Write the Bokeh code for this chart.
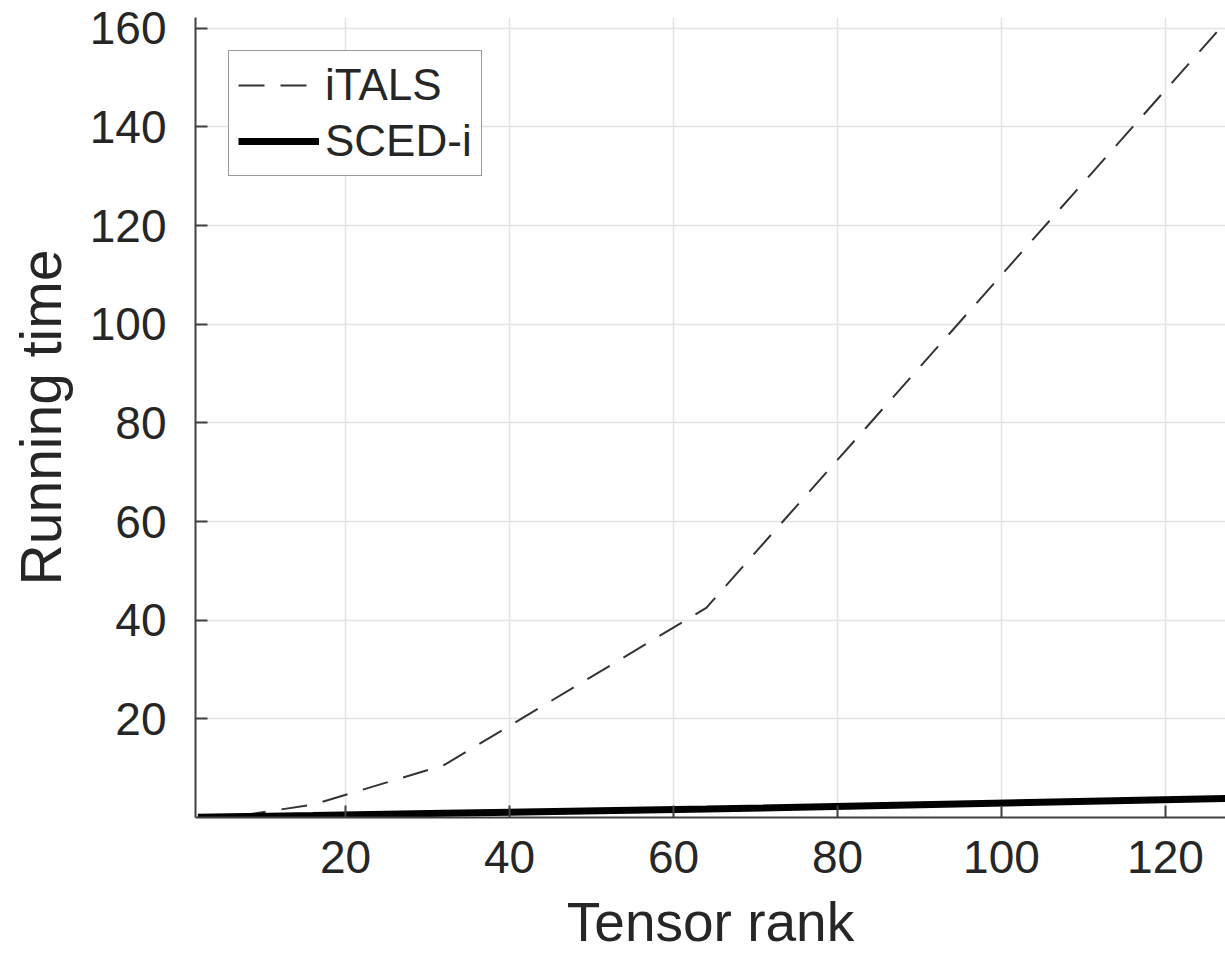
from bokeh.plotting import figure
from bokeh.models import Range1d, FixedTicker, Legend, LegendItem
from bokeh.embed import file_html
from bokeh.resources import INLINE

# Data
rank = [2, 4, 8, 16, 32, 64, 128]
italS = [0.05, 0.15, 0.6, 2.6, 10.6, 42.5, 162.5]
sced_i = [0.05, 0.1, 0.2, 0.4, 0.85, 1.7, 3.9]

x_ticks = [20, 40, 60, 80, 100, 120]
y_ticks = [20, 40, 60, 80, 100, 120, 140, 160]

FONT = "Liberation Sans"
TXT = "#262626"

p = figure(width=1225, height=956, output_backend="svg", toolbar_location=None,
           x_range=Range1d(1.71, 127.32), y_range=Range1d(0, 162.2),
           min_border_left=195, min_border_right=0, min_border_top=17,
           min_border_bottom=139)
p.outline_line_color = None
p.background_fill_color = "white"
p.border_fill_color = "white"

r1 = p.line(rank, italS, line_color="#333333", line_width=2, line_dash="26 16")
r2 = p.line(rank, sced_i, line_color="black", line_width=7)

for ax, ticks in ((p.xaxis[0], x_ticks), (p.yaxis[0], y_ticks)):
    ax.ticker = FixedTicker(ticks=ticks)
    ax.minor_tick_line_color = None
    ax.major_tick_in = 12
    ax.major_tick_out = 0
    ax.axis_line_color = "#404040"
    ax.axis_line_width = 2
    ax.major_tick_line_color = "#404040"
    ax.major_tick_line_width = 2
    ax.major_label_text_font = FONT
    ax.major_label_text_font_size = "46px"
    ax.major_label_text_color = TXT
    ax.axis_label_text_font = FONT
    ax.axis_label_text_font_style = "normal"
    ax.axis_label_text_color = TXT

p.xaxis.axis_label = "Tensor rank"
p.yaxis.axis_label = "Running time"
p.xaxis.axis_label_text_font_size = "55px"
p.yaxis.axis_label_text_font_size = "57px"
p.xaxis.major_label_standoff = 23
p.xaxis.axis_label_standoff = 15
p.yaxis.major_label_standoff = 29
p.yaxis.axis_label_standoff = 14

p.xgrid.ticker = FixedTicker(ticks=x_ticks)
p.ygrid.ticker = FixedTicker(ticks=y_ticks)
p.grid.grid_line_color = "#e3e3e3"
p.grid.grid_line_width = 1.5

legend = Legend(items=[LegendItem(label="iTALS", renderers=[r1]),
                       LegendItem(label="SCED-i", renderers=[r2])],
                location="top_left", margin=33)
legend.label_text_font = FONT
legend.label_text_font_size = "44px"
legend.label_text_color = TXT
legend.glyph_width = 81
legend.glyph_height = 50
legend.label_height = 50
legend.label_standoff = 6
legend.padding = 9
legend.spacing = 6
legend.border_line_color = "#333333"
legend.border_line_width = 1.5
legend.background_fill_color = "white"
legend.background_fill_alpha = 1.0
p.add_layout(legend)

open("out.html", "w").write(file_html(p, INLINE))
